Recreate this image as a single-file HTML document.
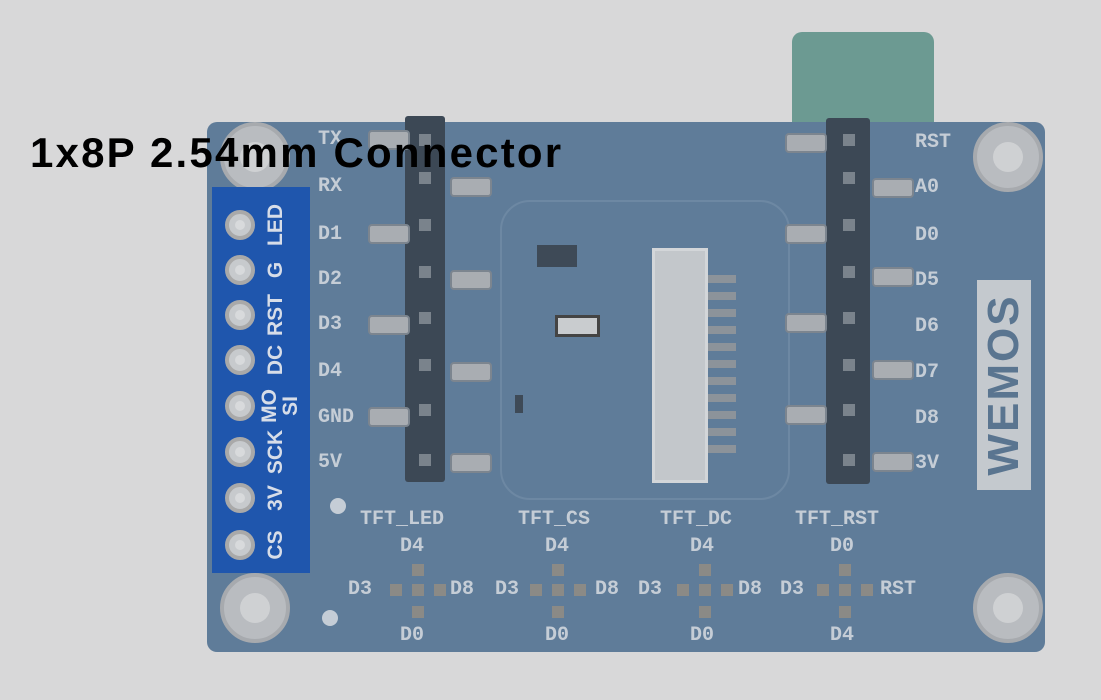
<!DOCTYPE html><html><head><style>
body{margin:0;width:1101px;height:700px;background:#d8d8d9;position:relative;overflow:hidden;font-family:"Liberation Mono",monospace}
div{position:absolute;box-sizing:border-box}
.t{color:#c5cdd6;font-size:20px;font-weight:bold;line-height:20px}
.hole{width:70px;height:70px;border-radius:50%;background:#b9bcc0;border:4px solid #a7aaae}
.hole::after{content:"";position:absolute;left:16px;top:16px;width:30px;height:30px;border-radius:50%;background:#cfd1d3}
.stub{width:42px;height:20px;background:#a9adb2;border:2px solid #7c858f;border-radius:4px}
.pin{width:12px;height:12px;background:#7a838c}
.pad{width:30px;height:30px;border-radius:50%;background:#c7cacd;border:4px solid #a9a9a9}
.pad::after{content:"";position:absolute;left:6px;top:6px;width:10px;height:10px;border-radius:50%;background:#d8dadc}
.bl{color:#d7dde8;font-family:"Liberation Sans",sans-serif;font-weight:bold;font-size:21px;transform:rotate(-90deg);transform-origin:center;width:80px;text-align:center;line-height:22px}
.sq{width:12px;height:12px;background:#8b8a86}
</style></head><body>
<div style="left:792px;top:32px;width:142px;height:100px;background:#6c9a92;border-radius:10px"></div>
<div style="left:207px;top:122px;width:838px;height:530px;background:#5f7c99;border-radius:10px"></div>
<div style="left:500px;top:200px;width:290px;height:300px;border:2px solid #6d88a3;border-radius:30px"></div>
<div class="hole" style="left:220px;top:122px"></div>
<div class="hole" style="left:220px;top:573px"></div>
<div class="hole" style="left:973px;top:122px"></div>
<div class="hole" style="left:973px;top:573px"></div>
<div style="left:212px;top:187px;width:98px;height:386px;background:#1f56ad"></div>
<div class="pad" style="left:225px;top:210px"></div>
<div class="pad" style="left:225px;top:255px"></div>
<div class="pad" style="left:225px;top:300px"></div>
<div class="pad" style="left:225px;top:345px"></div>
<div class="pad" style="left:225px;top:391px"></div>
<div class="pad" style="left:225px;top:437px"></div>
<div class="pad" style="left:225px;top:483px"></div>
<div class="pad" style="left:225px;top:530px"></div>
<div class="bl" style="left:236px;top:214px">LED</div>
<div class="bl" style="left:236px;top:259px">G</div>
<div class="bl" style="left:236px;top:304px">RST</div>
<div class="bl" style="left:236px;top:349px">DC</div>
<div class="bl" style="left:230px;top:395px">MO</div>
<div class="bl" style="left:251px;top:395px">SI</div>
<div class="bl" style="left:236px;top:441px">SCK</div>
<div class="bl" style="left:236px;top:487px">3V</div>
<div class="bl" style="left:236px;top:534px">CS</div>
<!-- left header -->
<div style="left:405px;top:116px;width:40px;height:366px;background:#3c4855;border-radius:3px"></div>
<div class="pin" style="left:419px;top:134px"></div><div class="pin" style="left:419px;top:172px"></div><div class="pin" style="left:419px;top:219px"></div><div class="pin" style="left:419px;top:266px"></div><div class="pin" style="left:419px;top:312px"></div><div class="pin" style="left:419px;top:359px"></div><div class="pin" style="left:419px;top:404px"></div><div class="pin" style="left:419px;top:454px"></div>
<div class="stub" style="left:368px;top:130px"></div><div class="stub" style="left:450px;top:177px"></div><div class="stub" style="left:368px;top:224px"></div><div class="stub" style="left:450px;top:270px"></div><div class="stub" style="left:368px;top:315px"></div><div class="stub" style="left:450px;top:362px"></div><div class="stub" style="left:368px;top:407px"></div><div class="stub" style="left:450px;top:453px"></div>
<div class="t" style="left:318px;top:130px">TX</div><div class="t" style="left:318px;top:177px">RX</div><div class="t" style="left:318px;top:225px">D1</div><div class="t" style="left:318px;top:270px">D2</div><div class="t" style="left:318px;top:315px">D3</div><div class="t" style="left:318px;top:362px">D4</div><div class="t" style="left:318px;top:408px">GND</div><div class="t" style="left:318px;top:453px">5V</div>
<!-- right header -->
<div style="left:826px;top:118px;width:44px;height:366px;background:#3c4855;border-radius:3px"></div>
<div class="pin" style="left:843px;top:134px"></div><div class="pin" style="left:843px;top:172px"></div><div class="pin" style="left:843px;top:219px"></div><div class="pin" style="left:843px;top:266px"></div><div class="pin" style="left:843px;top:312px"></div><div class="pin" style="left:843px;top:359px"></div><div class="pin" style="left:843px;top:404px"></div><div class="pin" style="left:843px;top:454px"></div>
<div class="stub" style="left:785px;top:133px"></div><div class="stub" style="left:872px;top:178px"></div><div class="stub" style="left:785px;top:224px"></div><div class="stub" style="left:872px;top:267px"></div><div class="stub" style="left:785px;top:313px"></div><div class="stub" style="left:872px;top:360px"></div><div class="stub" style="left:785px;top:405px"></div><div class="stub" style="left:872px;top:452px"></div>
<div class="t" style="left:915px;top:133px">RST</div><div class="t" style="left:915px;top:178px">A0</div><div class="t" style="left:915px;top:226px">D0</div><div class="t" style="left:915px;top:271px">D5</div><div class="t" style="left:915px;top:317px">D6</div><div class="t" style="left:915px;top:363px">D7</div><div class="t" style="left:915px;top:409px">D8</div><div class="t" style="left:915px;top:454px">3V</div>
<!-- connector -->
<div style="left:652px;top:248px;width:56px;height:235px;background:#c3c7cb;border:3px solid #d3d6d9"></div>
<div style="left:708px;top:275px;width:28px;height:180px;background:repeating-linear-gradient(#8c939a 0 8px,transparent 8px 17px)"></div>
<div style="left:537px;top:245px;width:40px;height:22px;background:#3e4a57"></div>
<div style="left:555px;top:315px;width:45px;height:22px;background:#c9cccf;border:3px solid #444"></div>
<div style="left:515px;top:395px;width:8px;height:18px;background:#3e4a57"></div>
<div style="left:977px;top:280px;width:54px;height:210px;background:#c4c9ce"></div>
<div style="left:899px;top:358px;width:210px;height:54px;transform:rotate(-90deg);color:#5a7590;font-family:'Liberation Sans',sans-serif;font-weight:bold;font-size:44px;line-height:54px;text-align:center;letter-spacing:2px">WEMOS</div>
<div style="left:330px;top:498px;width:16px;height:16px;border-radius:50%;background:#c5cdd6"></div>
<div style="left:322px;top:610px;width:16px;height:16px;border-radius:50%;background:#c5cdd6"></div>
<div class="t" style="left:360px;top:510px">TFT_LED</div><div class="t" style="left:518px;top:510px">TFT_CS</div><div class="t" style="left:660px;top:510px">TFT_DC</div><div class="t" style="left:795px;top:510px">TFT_RST</div>
<div class="t" style="left:400px;top:537px">D4</div><div class="t" style="left:545px;top:537px">D4</div><div class="t" style="left:690px;top:537px">D4</div><div class="t" style="left:830px;top:537px">D0</div>
<div class="t" style="left:348px;top:580px">D3</div><div class="t" style="left:450px;top:580px">D8</div><div class="t" style="left:495px;top:580px">D3</div><div class="t" style="left:595px;top:580px">D8</div><div class="t" style="left:638px;top:580px">D3</div><div class="t" style="left:738px;top:580px">D8</div><div class="t" style="left:780px;top:580px">D3</div><div class="t" style="left:880px;top:580px">RST</div>
<div class="t" style="left:400px;top:626px">D0</div><div class="t" style="left:545px;top:626px">D0</div><div class="t" style="left:690px;top:626px">D0</div><div class="t" style="left:830px;top:626px">D4</div>
<div class="sq" style="left:412px;top:564px"></div><div class="sq" style="left:412px;top:606px"></div><div class="sq" style="left:390px;top:584px"></div><div class="sq" style="left:434px;top:584px"></div><div class="sq" style="left:412px;top:584px"></div>
<div class="sq" style="left:552px;top:564px"></div><div class="sq" style="left:552px;top:606px"></div><div class="sq" style="left:530px;top:584px"></div><div class="sq" style="left:574px;top:584px"></div><div class="sq" style="left:552px;top:584px"></div>
<div class="sq" style="left:699px;top:564px"></div><div class="sq" style="left:699px;top:606px"></div><div class="sq" style="left:677px;top:584px"></div><div class="sq" style="left:721px;top:584px"></div><div class="sq" style="left:699px;top:584px"></div>
<div class="sq" style="left:839px;top:564px"></div><div class="sq" style="left:839px;top:606px"></div><div class="sq" style="left:817px;top:584px"></div><div class="sq" style="left:861px;top:584px"></div><div class="sq" style="left:839px;top:584px"></div>
<div style="left:30px;top:126px;font-family:'Liberation Sans',sans-serif;font-weight:bold;font-size:42px;color:#000;white-space:nowrap;line-height:54px;letter-spacing:2.2px">1x8P 2.54mm Connector</div>
</body></html>
